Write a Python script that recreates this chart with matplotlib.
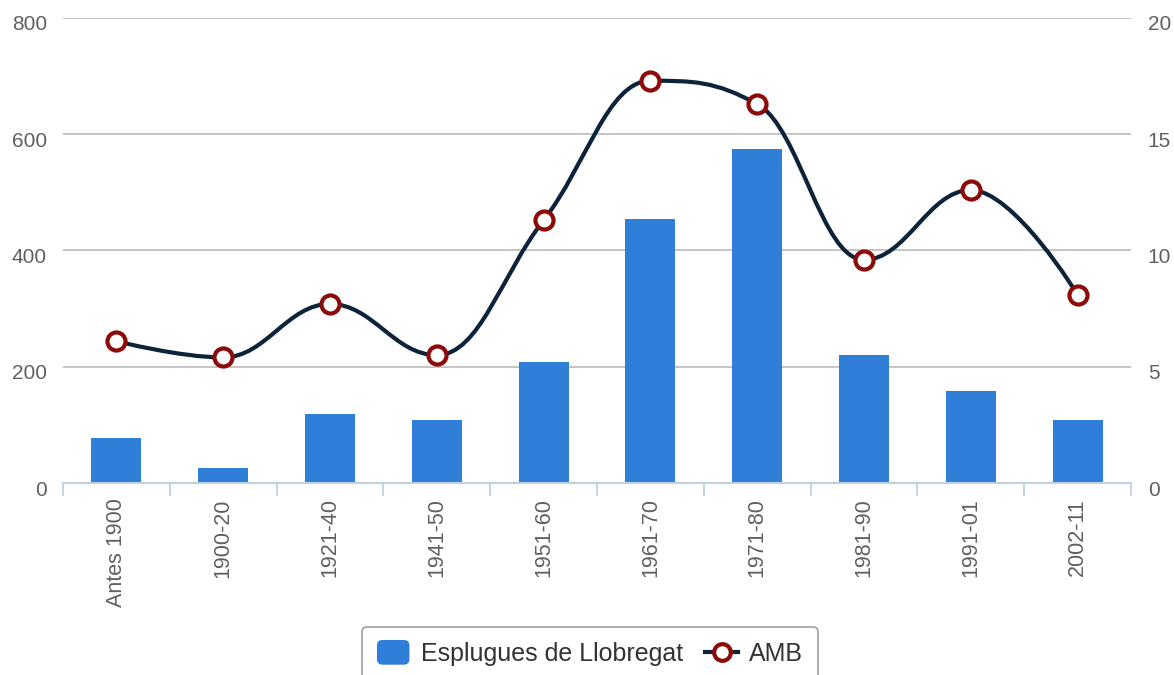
import matplotlib.pyplot as plt
import numpy as np
from matplotlib.legend_handler import HandlerPatch
from matplotlib.lines import Line2D
from matplotlib.patches import FancyBboxPatch, Patch, PathPatch
from matplotlib.path import Path
from matplotlib.transforms import ScaledTranslation

plt.rcParams["font.family"] = ["Liberation Sans", "DejaVu Sans"]

# Data
periods = ["Antes 1900", "1900-20", "1921-40", "1941-50", "1951-60",
           "1961-70", "1971-80", "1981-90", "1991-01", "2002-11"]
esplugues = [78, 25, 119, 108, 209, 454, 575, 220, 158, 109]
amb = [6.1, 5.4, 7.7, 5.5, 11.3, 17.3, 16.3, 9.6, 12.6, 8.1]
left_ticks = [0, 200, 400, 600, 800]
right_ticks = [0, 5, 10, 15, 20]

BAR_COLOR = "#2f7ed8"
LINE_COLOR = "#0d233a"
MARKER_EDGE = "#8b0a0a"
LABEL_COLOR = "#606060"


def spline_path(xs, ys, smoothing=1.5):
    """Bezier spline through the points, same idea as Highcharts 'spline'."""
    denom = smoothing + 1
    n = len(xs)
    verts = [(xs[0], ys[0])]
    codes = [Path.MOVETO]
    ctrl = []
    for i in range(n):
        x, y = xs[i], ys[i]
        if i == 0 or i == n - 1:
            ctrl.append(((x, y), (x, y)))
            continue
        lx, ly = xs[i - 1], ys[i - 1]
        nx, ny = xs[i + 1], ys[i + 1]
        lcx = (smoothing * x + lx) / denom
        lcy = (smoothing * y + ly) / denom
        rcx = (smoothing * x + nx) / denom
        rcy = (smoothing * y + ny) / denom
        corr = (rcy - lcy) * (rcx - x) / (rcx - lcx) + y - rcy
        lcy += corr
        rcy += corr
        if lcy > ly and lcy > y:
            lcy = max(ly, y)
            rcy = 2 * y - lcy
        elif lcy < ly and lcy < y:
            lcy = min(ly, y)
            rcy = 2 * y - lcy
        if rcy > ny and rcy > y:
            rcy = max(ny, y)
            lcy = 2 * y - rcy
        elif rcy < ny and rcy < y:
            rcy = min(ny, y)
            lcy = 2 * y - rcy
        ctrl.append(((lcx, lcy), (rcx, rcy)))
    for i in range(1, n):
        verts += [ctrl[i - 1][1], ctrl[i][0], (xs[i], ys[i])]
        codes += [Path.CURVE4] * 3
    return Path(verts, codes)


def rounded_square(legend, orig_handle, xdescent, ydescent, width, height, fontsize):
    return FancyBboxPatch((-xdescent, -ydescent - 2), width, height + 4,
                          boxstyle="round,pad=0,rounding_size=4")


fig = plt.figure(figsize=(11.74, 6.75), dpi=100)
ax = fig.add_axes([63 / 1174, 1 - 483 / 675, (1131 - 63) / 1174, 465 / 675])
ax2 = ax.twinx()

x = np.arange(len(periods))
ax.bar(x, esplugues, width=0.47, color=BAR_COLOR, zorder=2)

ax.set_xlim(-0.5, len(periods) - 0.5)
ax.set_ylim(0, 800)
ax2.set_ylim(0, 20)

# grid
for t in left_ticks[1:]:
    ax.axhline(t, color="#c0c0c0", lw=1.3, zorder=1)

for a in (ax, ax2):
    for s in a.spines.values():
        s.set_visible(False)
ax.spines["bottom"].set_visible(True)
ax.spines["bottom"].set_color("#c0d0e0")
ax.spines["bottom"].set_linewidth(1.5)

# y labels, a little below their grid lines
ax.set_yticks(left_ticks)
ax.tick_params(axis="y", length=0, pad=11.5, labelsize=15, labelcolor=LABEL_COLOR)
ax2.set_yticks(right_ticks)
ax2.tick_params(axis="y", length=0, pad=12, labelsize=15, labelcolor=LABEL_COLOR)
shift = ScaledTranslation(0, -5 / 100, fig.dpi_scale_trans)
for lab in ax.get_yticklabels() + ax2.get_yticklabels():
    lab.set_transform(lab.get_transform() + shift)

# x axis: ticks at category boundaries, labels at centres
ax.set_xticks(np.arange(-0.5, len(periods)))
ax.set_xticklabels([])
ax.tick_params(axis="x", length=9, width=1.3, color="#c0d0e0", direction="out")
for xi, lab in zip(x, periods):
    ax.annotate(lab, (xi, 0), xycoords=("data", "axes fraction"),
                xytext=(0, -11), textcoords="offset points",
                rotation=90, ha="center", va="top",
                fontsize=15.5, color=LABEL_COLOR)

# AMB spline line
path = spline_path(list(x), amb)
ax2.add_patch(PathPatch(path, facecolor="none", edgecolor=LINE_COLOR,
                        lw=3, zorder=3, capstyle="round", joinstyle="round"))
ax2.plot(x, amb, ls="none", marker="o", ms=13, mfc="white",
         mec=MARKER_EDGE, mew=3, zorder=4)

bar_handle = Patch(facecolor=BAR_COLOR, edgecolor="none", label="Esplugues de Llobregat")
line_handle = Line2D([], [], color=LINE_COLOR, lw=3, marker="o", ms=12, mfc="white",
                     mec=MARKER_EDGE, mew=3, label="AMB")
leg = fig.legend(handles=[bar_handle, line_handle], loc="center",
                 bbox_to_anchor=(590 / 1174, 1 - 654 / 675),
                 handler_map={Patch: HandlerPatch(patch_func=rounded_square)},
                 ncol=2, frameon=True, fontsize=18, fancybox=True,
                 edgecolor="#a0a0a0", framealpha=1, handlelength=1.3,
                 handleheight=0.8, handletextpad=0.45, columnspacing=0.9,
                 borderpad=0.6, labelcolor="#333333")
leg.get_frame().set_linewidth(1.2)

fig.savefig("out.png", dpi=100, facecolor="white")
